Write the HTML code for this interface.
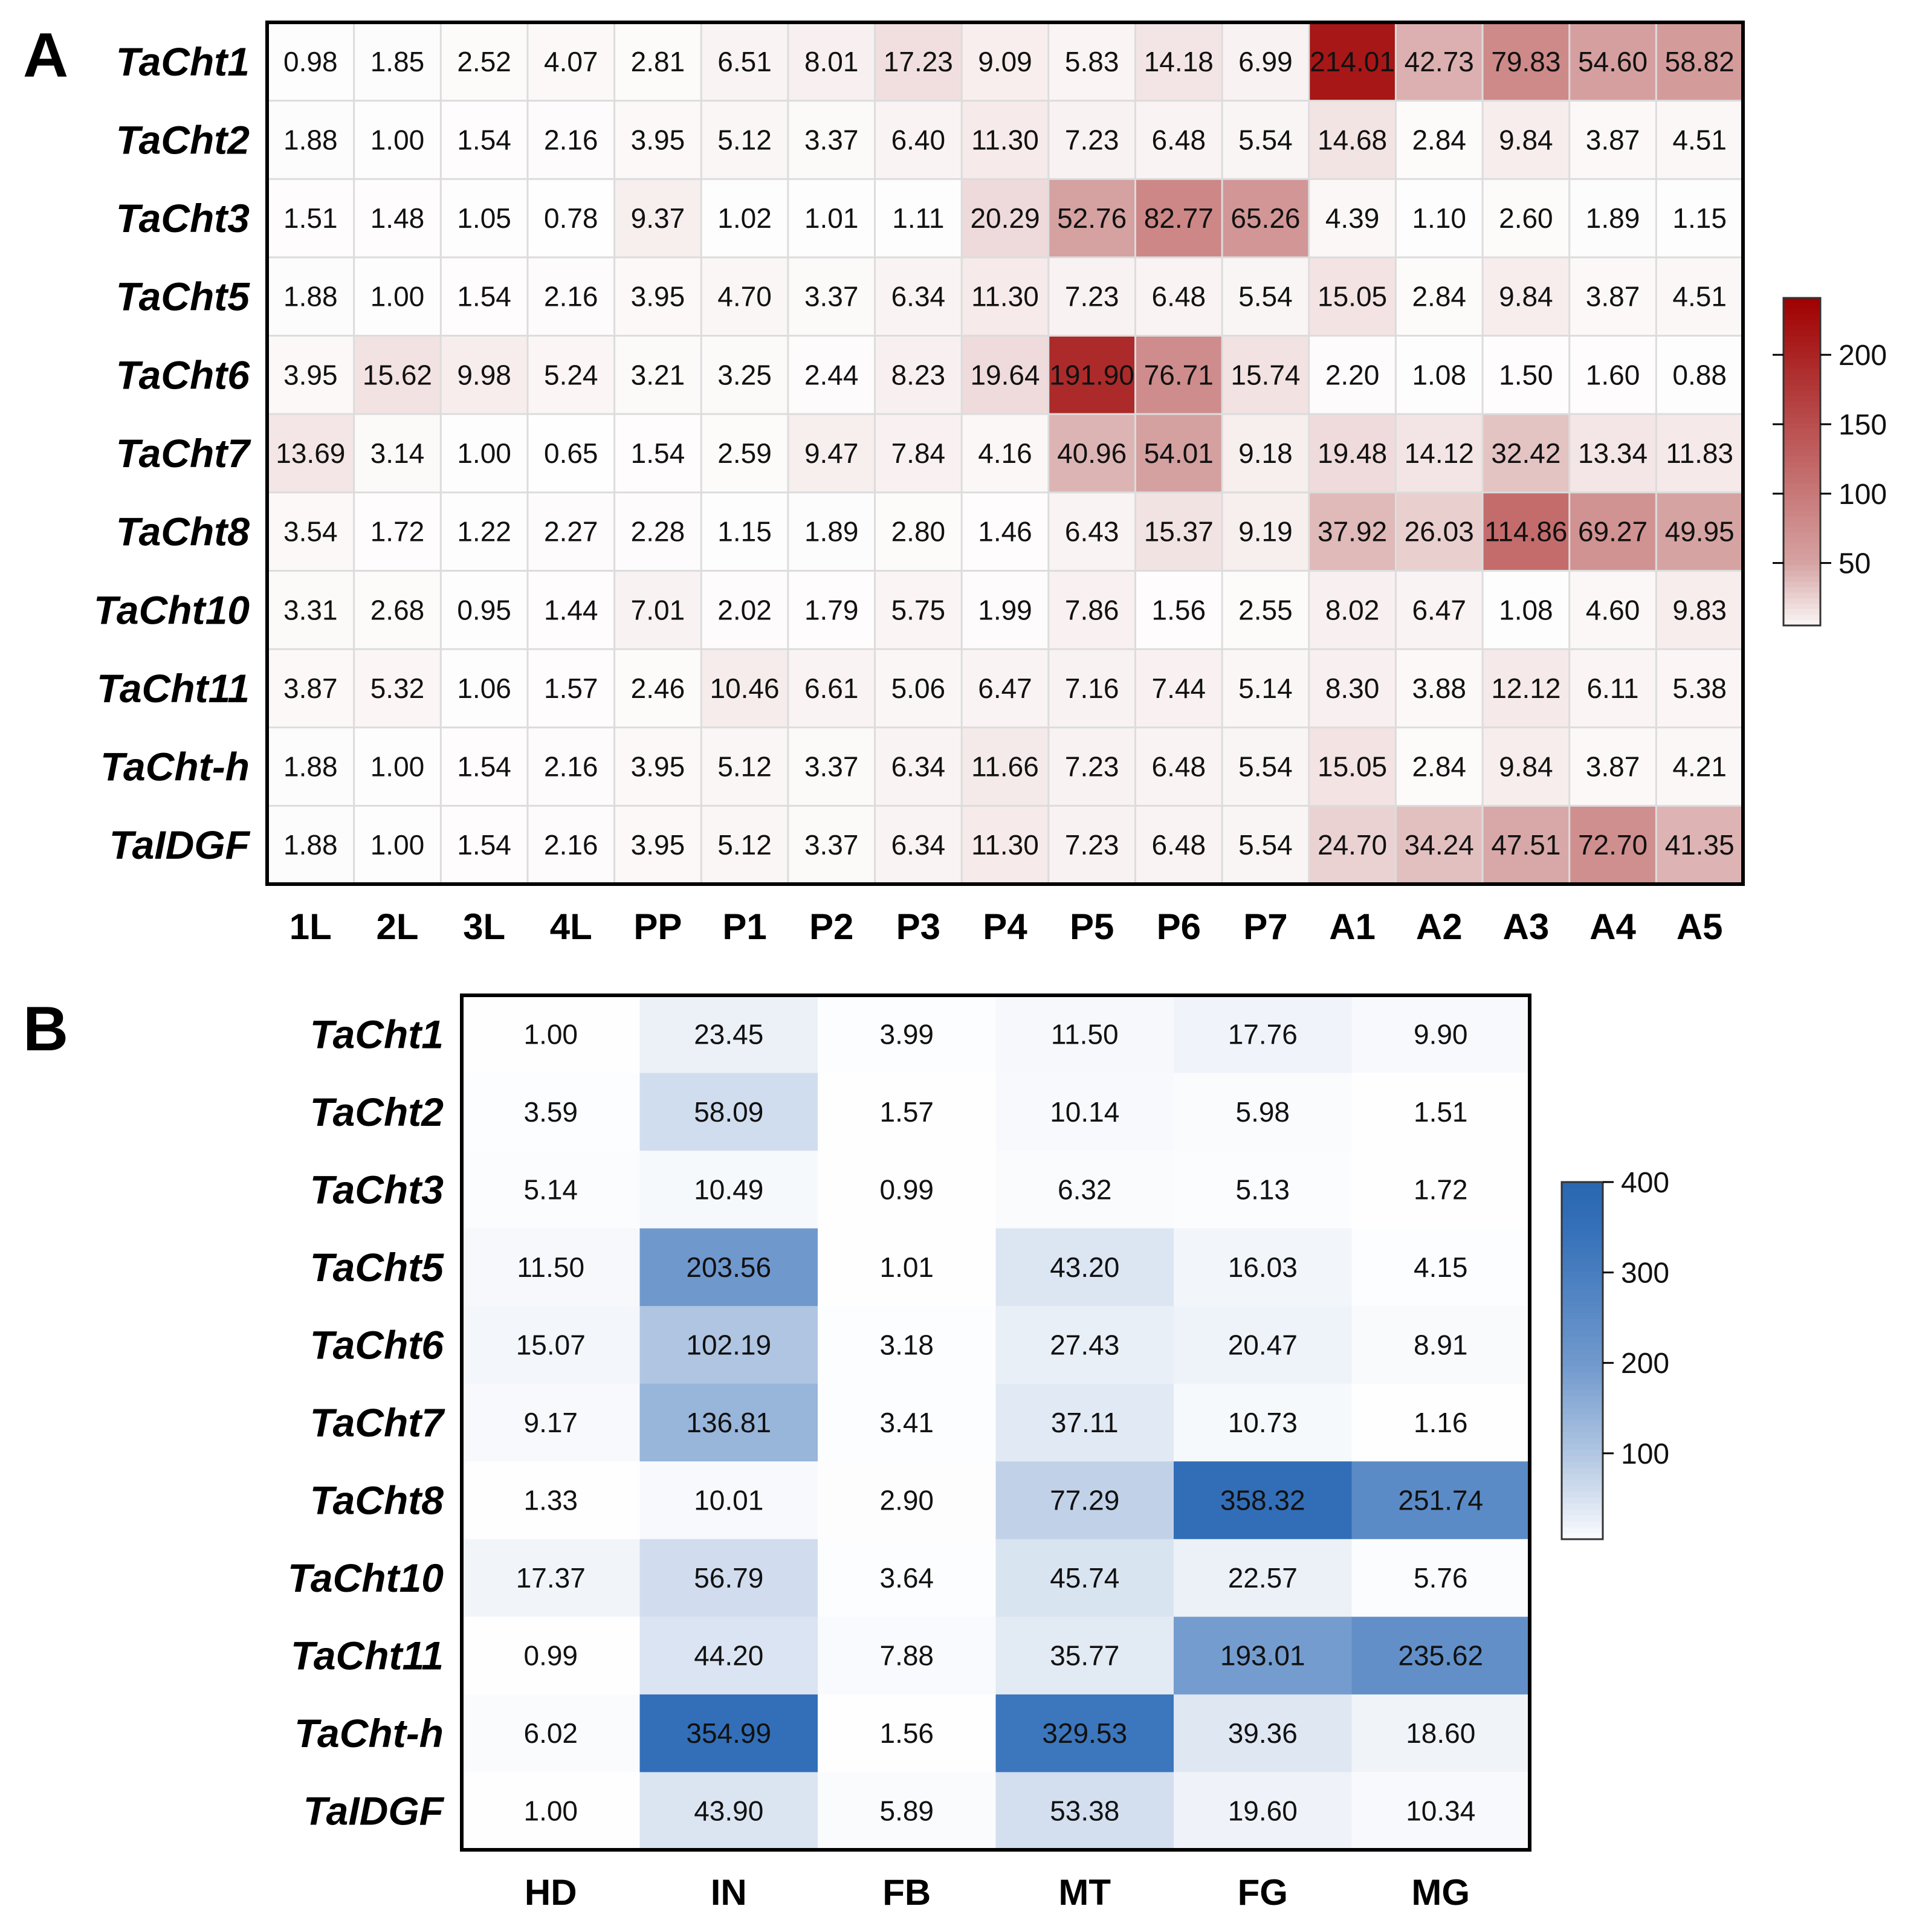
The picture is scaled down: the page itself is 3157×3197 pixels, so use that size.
<!DOCTYPE html>
<html><head><meta charset="utf-8">
<style>
html,body{margin:0;padding:0;background:#fff;}
svg{display:block;font-family:"Liberation Sans",Arial,sans-serif;}
</style></head>
<body>
<svg id="fig" width="3157" height="3197" viewBox="0 0 3157 3197" xmlns="http://www.w3.org/2000/svg"></svg>
<script>
const genes = ["TaCht1","TaCht2","TaCht3","TaCht5","TaCht6","TaCht7","TaCht8","TaCht10","TaCht11","TaCht-h","TaIDGF"];
const stagesA = ["1L","2L","3L","4L","PP","P1","P2","P3","P4","P5","P6","P7","A1","A2","A3","A4","A5"];
const valuesA = [
[0.98,1.85,2.52,4.07,2.81,6.51,8.01,17.23,9.09,5.83,14.18,6.99,214.01,42.73,79.83,54.60,58.82],
[1.88,1.00,1.54,2.16,3.95,5.12,3.37,6.40,11.30,7.23,6.48,5.54,14.68,2.84,9.84,3.87,4.51],
[1.51,1.48,1.05,0.78,9.37,1.02,1.01,1.11,20.29,52.76,82.77,65.26,4.39,1.10,2.60,1.89,1.15],
[1.88,1.00,1.54,2.16,3.95,4.70,3.37,6.34,11.30,7.23,6.48,5.54,15.05,2.84,9.84,3.87,4.51],
[3.95,15.62,9.98,5.24,3.21,3.25,2.44,8.23,19.64,191.90,76.71,15.74,2.20,1.08,1.50,1.60,0.88],
[13.69,3.14,1.00,0.65,1.54,2.59,9.47,7.84,4.16,40.96,54.01,9.18,19.48,14.12,32.42,13.34,11.83],
[3.54,1.72,1.22,2.27,2.28,1.15,1.89,2.80,1.46,6.43,15.37,9.19,37.92,26.03,114.86,69.27,49.95],
[3.31,2.68,0.95,1.44,7.01,2.02,1.79,5.75,1.99,7.86,1.56,2.55,8.02,6.47,1.08,4.60,9.83],
[3.87,5.32,1.06,1.57,2.46,10.46,6.61,5.06,6.47,7.16,7.44,5.14,8.30,3.88,12.12,6.11,5.38],
[1.88,1.00,1.54,2.16,3.95,5.12,3.37,6.34,11.66,7.23,6.48,5.54,15.05,2.84,9.84,3.87,4.21],
[1.88,1.00,1.54,2.16,3.95,5.12,3.37,6.34,11.30,7.23,6.48,5.54,24.70,34.24,47.51,72.70,41.35]
];
const tissuesB = ["HD","IN","FB","MT","FG","MG"];
const valuesB = [
[1.00,23.45,3.99,11.50,17.76,9.90],
[3.59,58.09,1.57,10.14,5.98,1.51],
[5.14,10.49,0.99,6.32,5.13,1.72],
[11.50,203.56,1.01,43.20,16.03,4.15],
[15.07,102.19,3.18,27.43,20.47,8.91],
[9.17,136.81,3.41,37.11,10.73,1.16],
[1.33,10.01,2.90,77.29,358.32,251.74],
[17.37,56.79,3.64,45.74,22.57,5.76],
[0.99,44.20,7.88,35.77,193.01,235.62],
[6.02,354.99,1.56,329.53,39.36,18.60],
[1.00,43.90,5.89,53.38,19.60,10.34]
];
const ticksA = [50,100,150,200];
const ticksB = [100,200,300,400];

const NS="http://www.w3.org/2000/svg";
const svg=document.getElementById('fig');
function mk(tag,attrs,parent){const e=document.createElementNS(NS,tag);for(const k in attrs)e.setAttribute(k,attrs[k]);(parent||svg).appendChild(e);return e;}
function interp(stops,v){
  if(v<=stops[0][0])return stops[0][1];
  for(let i=1;i<stops.length;i++){if(v<=stops[i][0]){const a=stops[i-1],b=stops[i];const t=(v-a[0])/(b[0]-a[0]);
    return a[1].map((x,j)=>Math.round(x+(b[1][j]-x)*t));}}
  return stops[stops.length-1][1];
}
const stopsA=[[0,[255,255,255]],[50,[214,163,163]],[100,[200,120,120]],[150,[185,78,78]],[241,[160,0,0]]];
const stopsB=[[0,[255,255,255]],[50,[214,225,240]],[100,[176,198,226]],[200,[112,153,205]],[350,[52,112,185]],[405,[40,102,176]]];
const rgb=c=>`rgb(${c[0]},${c[1]},${c[2]})`;

function heatmap(opt){
  const {x0,x1,y0,y1,rows,cols,vals,stops,grid,labelRight,colLabelY,name}=opt;
  const g=mk('g',{});
  
  
  const cw=(x1-x0)/cols.length, rh=(y1-y0)/rows.length;
  const xs=i=>x0+i*cw, ys=j=>y0+j*rh;
  vals.forEach((row,j)=>row.forEach((v,i)=>{
    const r=mk('rect',{x:xs(i),y:ys(j),width:cw+0.5,height:rh+0.5,fill:rgb(interp(stops,v))},g);
    
    
  }));
  if(grid){
    for(let i=1;i<cols.length;i++)mk('line',{x1:xs(i),x2:xs(i),y1:y0,y2:y1,stroke:'#dcdcdc','stroke-width':3},g);
    for(let j=1;j<rows.length;j++)mk('line',{x1:x0,x2:x1,y1:ys(j),y2:ys(j),stroke:'#dcdcdc','stroke-width':3},g);
  }
  vals.forEach((row,j)=>row.forEach((v,i)=>{
    const t=mk('text',{x:xs(i)+cw/2,y:ys(j)+rh/2+16,'text-anchor':'middle','font-size':opt.fs,fill:'#111'},g);
    t.textContent=v.toFixed(2);
    
    
  }));
  const b=mk('rect',{x:x0,y:y0,width:x1-x0,height:y1-y0,fill:'none',stroke:'#000','stroke-width':6},g);
  
  
  rows.forEach((r,j)=>{
    const t=mk('text',{x:labelRight,y:ys(j)+rh/2+23,'text-anchor':'end','font-size':66,'font-weight':'bold','font-style':'italic',fill:'#000'},g);
    t.textContent=r;
    
    
  });
  cols.forEach((c,i)=>{
    const t=mk('text',{x:xs(i)+cw/2,y:colLabelY,'text-anchor':'middle','font-size':60,'font-weight':'bold',fill:'#000'},g);
    t.textContent=c;
    
    
  });
}
function colorbar(opt){
  const {x,w,ytop,ybot,vmin,vmax,stops,ticks,left,name}=opt;
  const g=mk('g',{});
  
  
  const yv=v=>ybot-(v-vmin)/(vmax-vmin)*(ybot-ytop);
  const n=60,h=(ybot-ytop)/n;
  for(let k=0;k<n;k++){const v=vmax-(k+0.5)/n*(vmax-vmin);
    mk('rect',{x:x,y:ytop+k*h,width:w,height:h+0.8,fill:rgb(interp(stops,v))},g);}
  mk('rect',{x:x,y:ytop,width:w,height:ybot-ytop,fill:'none',stroke:'#333','stroke-width':3},g);
  ticks.forEach(t=>{
    const y=yv(t);
    mk('line',{x1:x+w,x2:x+w+18,y1:y,y2:y,stroke:'#000','stroke-width':3},g);
    if(left)mk('line',{x1:x-18,x2:x,y1:y,y2:y,stroke:'#000','stroke-width':3},g);
    const tx=mk('text',{x:x+w+30,y:y+17,'font-size':48,fill:'#111'},g);
    tx.textContent=t;
    
    
  });
}
const la=mk('text',{x:38,y:127,'font-size':104,'font-weight':'bold',fill:'#000'});
la.textContent='A';


const lb=mk('text',{x:38,y:1738,'font-size':104,'font-weight':'bold',fill:'#000'});
lb.textContent='B';



heatmap({name:'heatmap-a',x0:442,x1:2884,y0:37,y1:1463,rows:genes,cols:stagesA,vals:valuesA,stops:stopsA,grid:true,labelRight:413,colLabelY:1554,fs:46});
heatmap({name:'heatmap-b',x0:764,x1:2531,y0:1647,y1:3061,rows:genes,cols:tissuesB,vals:valuesB,stops:stopsB,grid:false,labelRight:734,colLabelY:3152,fs:46});
colorbar({name:'colorbar-a',x:2951,w:61,ytop:493,ybot:1035,vmin:5,vmax:241,stops:stopsA,ticks:ticksA,left:true});
colorbar({name:'colorbar-b',x:2584,w:68,ytop:1956,ybot:2547,vmin:5,vmax:400,stops:stopsB,ticks:ticksB,left:false});
</script>
</body></html>
